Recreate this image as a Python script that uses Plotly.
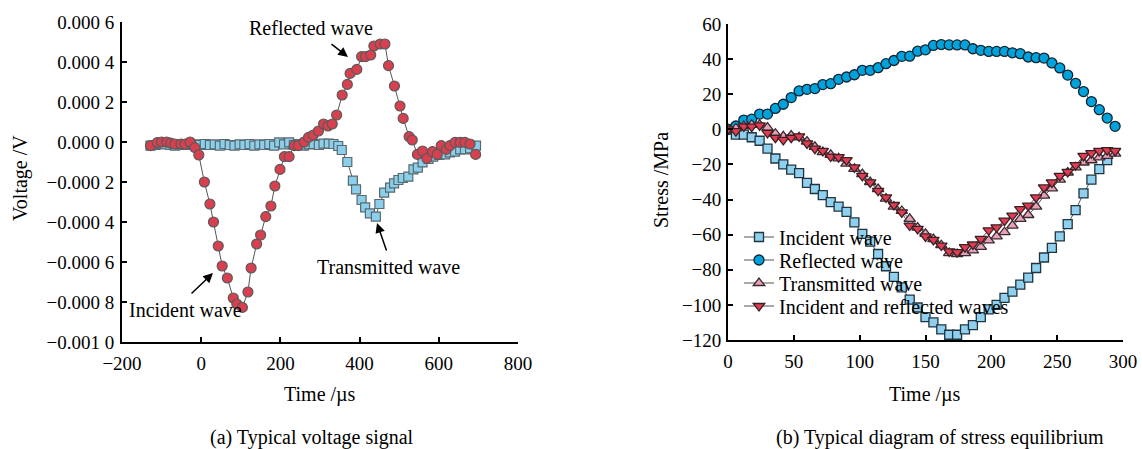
import plotly.graph_objects as go

# ---------------- (a) voltage signal ----------------
red_t = [-128, -111, -100, -87, -77, -67, -51, -41, -28, -16, -6, 8, 22, 31, 43, 53, 66, 81, 90, 104,
         118, 126, 140, 150, 163, 176, 186, 199, 210, 222, 235, 245, 260, 271, 283, 296, 309, 320, 331, 342,
         356, 369, 376, 393, 405, 415, 428, 436, 452, 464, 473, 488, 502, 510, 525, 533, 546, 559, 570, 584,
         596, 606, 619, 628, 641, 654, 666, 679, 693]
red_v = [-1.8e-5, -0.3e-5, 0.0, 0.0, -0.6e-5, -1.0e-5, -1.0e-5, -1.0e-5, 0.0, -2.8e-5,
         -6.5e-5, -20e-5, -31e-5, -40e-5, -52e-5, -62e-5, -68e-5, -78e-5, -81e-5, -82.7e-5,
         -75e-5, -63e-5, -51e-5, -46.5e-5, -37.3e-5, -32e-5, -22e-5, -13.7e-5, -7.3e-5, -7.3e-5,
         -1.8e-5, -1.8e-5, 0.0, 2.3e-5, 3.5e-5, 5.5e-5, 9e-5, 8e-5, 9e-5, 13.5e-5,
         23.5e-5, 28.8e-5, 34.3e-5, 36.3e-5, 42.7e-5, 42.7e-5, 43.5e-5, 48e-5, 49e-5, 49e-5,
         38.2e-5, 28e-5, 18e-5, 11.8e-5, 2.7e-5, 1e-5, -6.2e-5, -4.5e-5, -8.2e-5, -4.8e-5,
         -6.2e-5, -1.8e-5, -3.7e-5, -1.8e-5, -0.2e-5, -0.2e-5, -0.2e-5, -1e-5, -6.2e-5]

blue_t = [-128, -116, -103, -91, -78, -66, -53, -41, -28, -16, -3, 9, 22, 34, 47, 59, 72, 84, 97, 109,
          122, 134, 147, 159, 172, 184, 197, 209, 222, 234, 247, 259, 272, 284, 297, 309, 322, 334,
          346, 355, 369, 383, 391, 405, 414, 426, 441, 450, 462, 477, 487, 498, 509, 523, 536, 547,
          559, 574, 586, 601, 616, 628, 641, 654, 666, 679, 694]
blue_v = [-1.8e-5, -1.5e-5, -1.0e-5, -1.2e-5, -1.5e-5, -1.8e-5, -1.2e-5, -1.5e-5, -1.0e-5, -1.2e-5,
          -1.5e-5, -1.0e-5, -1.5e-5, -1.2e-5, -1.8e-5, -1.0e-5, -1.5e-5, -1.8e-5, -1.2e-5, -1.5e-5,
          -1.0e-5, -1.8e-5, -1.2e-5, -1.5e-5, -1.0e-5, -1.8e-5, -0.2e-5, -1.2e-5, -0.2e-5, -1.5e-5,
          -1.0e-5, -1.8e-5, -1.2e-5, -1.0e-5, -1.5e-5, -0.8e-5, -0.8e-5, -1.0e-5,
          -2e-5, -4e-5, -10e-5, -19.3e-5, -23.7e-5, -29e-5, -32.7e-5, -35.7e-5, -37.3e-5, -31e-5,
          -25.3e-5, -22.8e-5, -20.7e-5, -19e-5, -18e-5, -17.3e-5, -13.7e-5, -12.8e-5, -10.2e-5, -8.5e-5,
          -7.3e-5, -6.5e-5, -6.2e-5, -5.2e-5, -4.8e-5, -3.7e-5, -3.7e-5, -3.2e-5, -1.8e-5]

a_xticks = [-200, 0, 200, 400, 600, 800]
a_xticktext = ["\u2212200", "0", "200", "400", "600", "800"]
a_yticks = [0.0006, 0.0004, 0.0002, 0.0, -0.0002, -0.0004, -0.0006, -0.0008, -0.001]
a_yticktext = ["0.000 6", "0.000 4", "0.000 2", "0.000 0", "\u22120.000 2", "\u22120.000 4",
               "\u22120.000 6", "\u22120.000 8", "\u22120.001 0"]

# ---------------- (b) stress equilibrium ----------------
t_b = [0, 6, 12, 18, 24, 30, 36, 42, 48, 54, 60, 66, 72, 78, 84, 90, 96, 102, 108, 114,
       120, 126, 132, 138, 144, 150, 156, 162, 168, 174, 180, 186, 192, 198, 204, 210, 216, 222, 228, 234,
       240, 246, 252, 258, 264, 270, 276, 282, 288, 294]
t_inc = [0, 6, 12, 18, 24, 30, 36, 42, 48, 54, 60, 66, 72, 78, 84, 90, 96, 102, 108, 114,
         120, 126, 132, 138, 144, 150, 156, 162, 168, 174, 180, 186, 192, 198, 204, 210, 216, 222, 228, 234,
         240, 246, 252, 258, 264, 270, 276, 282, 288]
incident = [0, -3, -3, -4.5, -6.5, -11, -16.6, -20, -23, -25, -30.5, -34, -37.5, -41.5, -44, -47, -53, -59.5,
            -64, -71, -78, -84, -90, -97, -101.5, -107, -110, -114, -117, -117, -114, -111.5, -107, -102.5,
            -100, -96, -92.5, -88.5, -84.5, -79, -73, -67.5, -61, -54, -46, -36.5, -28.7, -22.7, -17.5]
reflected = [0, 1.9, 5.3, 5.8, 8.7, 8.7, 11.9, 14.3, 18.1, 21.9, 22.8, 23.2, 25.5, 26, 28.5, 29.8, 31.1,
             33.6, 33.6, 35.1, 37.4, 39.2, 41.6, 41.7, 44.5, 45.3, 47.8, 48.3, 48.1, 48.1, 48.1, 45.9, 45,
             44.4, 44.4, 44.4, 43.6, 43.1, 41.2, 40.8, 40.6, 37.8, 35, 30.9, 26.2, 21.5, 15.8, 11.2, 6.4, 1.7]
transmitted = [0, 0.5, 1.9, 2.5, 2.5, 1, -2.5, -4, -3.5, -4.5, -7, -10, -13, -14.5, -16.5, -19.5, -22.5,
               -25.5, -30, -34, -39.5, -44, -46.5, -51, -56, -59.5, -62.5, -66, -70.5, -71, -70.5, -69, -67,
               -63.3, -61, -58.6, -54.8, -51, -48.8, -44, -37.8, -33.6, -28.7, -24.6, -21.7, -18.9, -17.6,
               -16, -15.1, -13.8]
combined = [0, -1, 1.7, 1.5, 2.2, -2, -4.8, -6, -4.8, -4, -8, -11, -12.3, -15.5, -15.8, -17.5, -21.7,
            -26.5, -30.2, -35, -38.8, -43.1, -47.3, -54.8, -56.7, -61, -63, -66.2, -69.5, -70, -67.1, -65.6,
            -62.4, -57.5, -55.8, -52, -49.1, -45.4, -43.5, -38.8, -33.1, -30.2, -26.5, -24.2, -20.4, -15.1,
            -13.6, -12.3, -11.9, -12.3]

b_xticks = [0, 50, 100, 150, 200, 250, 300]
b_yticks = [60, 40, 20, 0, -20, -40, -60, -80, -100, -120]
b_yticktext = ["60", "40", "20", "0", "\u221220", "\u221240", "\u221260", "\u221280", "\u2212100", "\u2212120"]

FONT = "Liberation Serif, Times New Roman, serif"
FS = 19
FT = 20
W, H = 1142, 449
LINE = "#555555"

fig = go.Figure()

# (a)
fig.add_trace(go.Scatter(x=blue_t, y=blue_v, mode="lines+markers", xaxis="x", yaxis="y",
                         line=dict(color=LINE, width=1),
                         marker=dict(symbol="square", size=9, color="#8ccfea",
                                     line=dict(color="#5a6870", width=1.2)),
                         showlegend=False))
fig.add_trace(go.Scatter(x=red_t, y=red_v, mode="lines+markers", xaxis="x", yaxis="y",
                         line=dict(color=LINE, width=1),
                         marker=dict(symbol="circle", size=10, color="#d8404f",
                                     line=dict(color="#5a5a5a", width=1.2)),
                         showlegend=False))

# (b)
fig.add_trace(go.Scatter(x=t_inc, y=incident, mode="lines+markers", xaxis="x2", yaxis="y2",
                         name="Incident wave", legend="legend", line=dict(color=LINE, width=1),
                         marker=dict(symbol="square", size=9, color="#8fd0ee",
                                     line=dict(color="#1f3440", width=1.3))))
fig.add_trace(go.Scatter(x=t_b, y=reflected, mode="lines+markers", xaxis="x2", yaxis="y2",
                         name="Reflected wave", legend="legend2", line=dict(color=LINE, width=1),
                         marker=dict(symbol="circle", size=10, color="#00a2dc",
                                     line=dict(color="#102430", width=1.3))))
fig.add_trace(go.Scatter(x=t_b, y=transmitted, mode="lines+markers", xaxis="x2", yaxis="y2",
                         name="Transmitted wave", legend="legend3", line=dict(color=LINE, width=1),
                         marker=dict(symbol="triangle-up", size=10, color="#e8a2b8",
                                     line=dict(color="#3a2a30", width=1.3))))
fig.add_trace(go.Scatter(x=t_b, y=combined, mode="lines+markers", xaxis="x2", yaxis="y2",
                         name="Incident and reflected waves", legend="legend4", line=dict(color=LINE, width=1),
                         marker=dict(symbol="triangle-down", size=10, color="#e03c52",
                                     line=dict(color="#3a2025", width=1.3))))

axis_common = dict(showline=True, linecolor="black", linewidth=2, ticks="inside", ticklen=5,
                   tickwidth=1.5, tickcolor="black", showgrid=False, zeroline=False,
                   tickfont=dict(family=FONT, size=FS, color="black"))

def legend_at(cy):
    return dict(x=739 / W, y=1 - cy / H, xanchor="left", yanchor="middle",
                bgcolor="rgba(0,0,0,0)", borderwidth=0,
                font=dict(family=FONT, size=FT, color="black"), itemsizing="trace")

fig.update_layout(
    width=W, height=H, margin=dict(l=0, r=0, t=0, b=0, pad=0, autoexpand=False),
    paper_bgcolor="white", plot_bgcolor="white",
    font=dict(family=FONT, size=FS, color="black"),
    xaxis=dict(domain=[122 / W, 518 / W], range=[-200, 800], anchor="y", ticklabelstandoff=3,
               tickvals=a_xticks, ticktext=a_xticktext, **axis_common),
    yaxis=dict(domain=[1 - 342 / H, 1 - 22 / H], range=[-0.001, 0.0006], anchor="x", ticklabelstandoff=2,
               tickvals=a_yticks, ticktext=a_yticktext, **axis_common),
    xaxis2=dict(domain=[728 / W, 1123 / W], range=[0, 300], anchor="y2", ticklabelstandoff=3,
                tickvals=b_xticks, **axis_common),
    yaxis2=dict(domain=[1 - 340 / H, 1 - 24 / H], range=[-120, 60], anchor="x2", ticklabelstandoff=1,
                tickvals=b_yticks, ticktext=b_yticktext, **axis_common),
    showlegend=True,
    legend=legend_at(237), legend2=legend_at(260), legend3=legend_at(283), legend4=legend_at(306),
)

def px_to_a(px, py):
    return (px - 122) / 0.396 - 200, (142 - py) * 5e-6

ann = []
# arrows in (a)
for head, tail in [((348, 57), (330, 43)), ((377, 223), (387, 252)), ((213, 273), (190, 295))]:
    hx, hy = px_to_a(*head)
    tx, ty = px_to_a(*tail)
    ann.append(dict(x=hx, y=hy, ax=tx, ay=ty, xref="x", yref="y", axref="x", ayref="y",
                    text="", showarrow=True, arrowhead=2, arrowsize=1.3, arrowwidth=1.5,
                    arrowcolor="black"))
for txt, (px, py) in [("Reflected wave", (311, 28)), ("Transmitted wave", (388, 267)),
                      ("Incident wave", (185, 310))]:
    ann.append(dict(x=px / W, y=1 - py / H, xref="paper", yref="paper", text=txt,
                    showarrow=False, xanchor="center", yanchor="middle",
                    font=dict(family=FONT, size=FT, color="black")))
# axis titles and captions
for txt, (px, py), ang in [("Time /\u00b5s", (320, 394), 0), ("Time /\u00b5s", (925, 394), 0),
                           ("Voltage /V", (20, 178), -90), ("Stress /MPa", (661, 180), -90),
                           ("(a) Typical voltage signal", (312, 437), 0),
                           ("(b) Typical diagram of stress equilibrium", (940, 437), 0)]:
    ann.append(dict(x=px / W, y=1 - py / H, xref="paper", yref="paper", text=txt,
                    showarrow=False, xanchor="center", yanchor="middle", textangle=ang,
                    font=dict(family=FONT, size=FT, color="black")))
fig.update_layout(annotations=ann)

fig.write_html("out.html")
